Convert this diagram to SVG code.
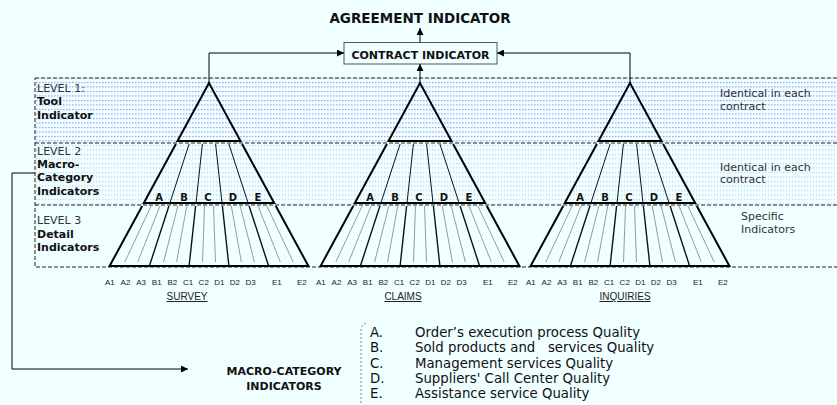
<svg xmlns="http://www.w3.org/2000/svg" xmlns:xlink="http://www.w3.org/1999/xlink" width="837" height="405" viewBox="0 0 837 405">
  <style>
    .t { font-family: "DejaVu Sans", Verdana, sans-serif; fill: #111; }
    .b { font-weight: bold; }
    .lvl { font-size: 11px; fill: #333; }
    .lbl { font-size: 11px; }
    .cat { font-size: 10px; font-weight: bold; text-anchor: middle; }
    .sub { font-family: "Liberation Sans", Arial, sans-serif; font-size: 8px; fill: #222; }
    .tool { font-family: "Liberation Sans", Arial, sans-serif; font-size: 10px; fill: #222; text-anchor: middle; text-decoration: underline; }
    .list { font-size: 13.3px; white-space: pre; }
    .edge { fill: none; stroke: #000; stroke-width: 2; stroke-linejoin: miter; }
    .div2 { fill: none; stroke: #111; stroke-width: 1; }
    .div3 { fill: none; stroke: #111; stroke-width: 1.4; }
    .thin { fill: none; stroke: #808080; stroke-width: 0.8; }
    .dash { fill: none; stroke: #222; stroke-width: 1; stroke-dasharray: 4 2; }
    .conn { fill: none; stroke: #000; stroke-width: 1; }
  </style>
  <defs>
    <pattern id="dotsL1" width="3" height="4.5" patternUnits="userSpaceOnUse">
      <rect x="0" y="1" width="1.6" height="1" fill="#8f8ff2"/>
    </pattern>
    <pattern id="dotsL2" width="3" height="4.5" patternUnits="userSpaceOnUse">
      <rect x="0" y="1" width="1.2" height="1" fill="#b8bff0"/>
    </pattern>
    <marker id="arrow" viewBox="0 0 8 8" refX="8" refY="4" markerWidth="7" markerHeight="7" markerUnits="userSpaceOnUse" orient="auto">
      <path d="M0,0 L8,4 L0,8 Z" fill="#000"/>
    </marker>
    <!-- one pyramid, apex at x=0 -->
    <g id="pyramid">
      <!-- level 1 -->
      <path class="edge" d="M0,83 L-31.5,141 L31.5,141 Z"/>
      <!-- level 2 -->
      <path class="edge" d="M-33.1,144 L-65.2,203 L65.2,203 L33.1,144"/>
      <path class="div2" d="M-19.9,144 L-39.1,203 M-6.6,144 L-13,203 M6.6,144 L13,203 M19.9,144 L39.1,203"/>
      <!-- level 3 -->
      <path class="thin" d="M-57.9,206 L-84.2,262 M-49,206 L-71.3,262 M-31.2,206 L-45.4,262 M-22.3,206 L-32.4,262 M-4.5,206 L-6.5,262 M4.5,206 L6.5,262 M22.3,206 L32.4,262 M31.2,206 L45.4,262 M49,206 L71.3,262 M57.9,206 L84.2,262"/>
      <path class="div3" d="M-40.1,206 L-59.6,266 M-13.4,206 L-19.9,266 M13.4,206 L19.9,266 M40.1,206 L59.6,266"/>
      <path class="edge" d="M-66.8,206 L-99.4,266 L99.4,266 L66.8,206"/>
      <text class="t cat" x="-50" y="201">A</text>
      <text class="t cat" x="-25" y="201">B</text>
      <text class="t cat" x="-1" y="201">C</text>
      <text class="t cat" x="24" y="201">D</text>
      <text class="t cat" x="49" y="201">E</text>
      <text class="sub" y="285"><tspan x="-104">A1</tspan><tspan x="-88.4">A2</tspan><tspan x="-72.8">A3</tspan><tspan x="-57.2">B1</tspan><tspan x="-41.6">B2</tspan><tspan x="-26">C1</tspan><tspan x="-10.4">C2</tspan><tspan x="5.2">D1</tspan><tspan x="20.8">D2</tspan><tspan x="36.4">D3</tspan><tspan x="63">E1</tspan><tspan x="88">E2</tspan></text>
    </g>
  </defs>

  <rect width="837" height="405" fill="#f0ffff"/>

  <!-- level bands -->
  <g id="levels">
    <rect x="35" y="78" width="810" height="65" fill="url(#dotsL1)"/>
    <rect x="35" y="143" width="810" height="62" fill="url(#dotsL2)"/>
    <rect class="dash" x="35" y="78" width="820" height="189"/>
    <line class="dash" x1="35" y1="143" x2="837" y2="143"/>
    <line class="dash" x1="35" y1="205" x2="837" y2="205"/>
    <text class="t lvl" x="37" y="92">LEVEL 1:</text>
    <text class="t lbl b" x="37" y="105">Tool</text>
    <text class="t lbl b" x="37" y="119">Indicator</text>
    <text class="t lvl" x="37" y="155">LEVEL 2</text>
    <text class="t lbl b" x="37" y="168">Macro-</text>
    <text class="t lbl b" x="37" y="181">Category</text>
    <text class="t lbl b" x="37" y="195">Indicators</text>
    <text class="t lvl" x="37" y="224">LEVEL 3</text>
    <text class="t lbl b" x="37" y="238">Detail</text>
    <text class="t lbl b" x="37" y="251">Indicators</text>
    <text class="t lvl" x="720" y="97">Identical in each</text>
    <text class="t lvl" x="720" y="110">contract</text>
    <text class="t lvl" x="720" y="171">Identical in each</text>
    <text class="t lvl" x="720" y="183">contract</text>
    <text class="t lvl" x="741" y="220">Specific</text>
    <text class="t lvl" x="741" y="233">Indicators</text>
  </g>

  <g id="agreement">
    <text class="t b" x="420" y="23" font-size="13.5" text-anchor="middle">AGREEMENT INDICATOR</text>
  </g>

  <g id="contract">
    <rect x="344" y="42.5" width="153" height="21.5" fill="#f0ffff" stroke="#555" stroke-width="1"/>
    <text class="t b" x="420.5" y="58.5" font-size="11" text-anchor="middle">CONTRACT INDICATOR</text>
  </g>

  <g id="survey" transform="translate(209,0)">
    <use xlink:href="#pyramid"/>
    <text class="tool" x="-22" y="300">SURVEY</text>
  </g>
  <g id="claims" transform="translate(420,0)">
    <use xlink:href="#pyramid"/>
    <text class="tool" x="-17" y="300">CLAIMS</text>
  </g>
  <g id="inquiries" transform="translate(630,0)">
    <use xlink:href="#pyramid"/>
    <text class="tool" x="-5" y="300">INQUIRIES</text>
  </g>

  <g id="macro-legend">
    <text class="t b" x="284" y="375" font-size="11" text-anchor="middle">MACRO-CATEGORY</text>
    <text class="t b" x="284" y="390" font-size="11" text-anchor="middle">INDICATORS</text>
    <path d="M366,323 Q361,325 361,331 L361,405" fill="none" stroke="#666" stroke-width="0.8" stroke-dasharray="2 2"/>
    <text class="t list" y="337"><tspan x="370">A.</tspan><tspan x="415">Order’s execution process Quality</tspan></text>
    <text class="t list" y="352"><tspan x="370">B.</tspan><tspan x="415">Sold products and   services Quality</tspan></text>
    <text class="t list" y="368"><tspan x="370">C.</tspan><tspan x="415">Management services Quality</tspan></text>
    <text class="t list" y="383"><tspan x="370">D.</tspan><tspan x="415">Suppliers' Call Center Quality</tspan></text>
    <text class="t list" y="398"><tspan x="370">E.</tspan><tspan x="415">Assistance service Quality</tspan></text>
  </g>

  <g id="connectors">
    <path class="conn" d="M209,83 V53 H344" marker-end="url(#arrow)"/>
    <path class="conn" d="M630,83 V53 H497" marker-end="url(#arrow)"/>
    <path class="conn" d="M420,83 V64" marker-end="url(#arrow)"/>
    <path class="conn" d="M420,42.5 V28" marker-end="url(#arrow)"/>
    <path class="conn" d="M35,173 H12 V369 H188" marker-end="url(#arrow)"/>
  </g>
</svg>
